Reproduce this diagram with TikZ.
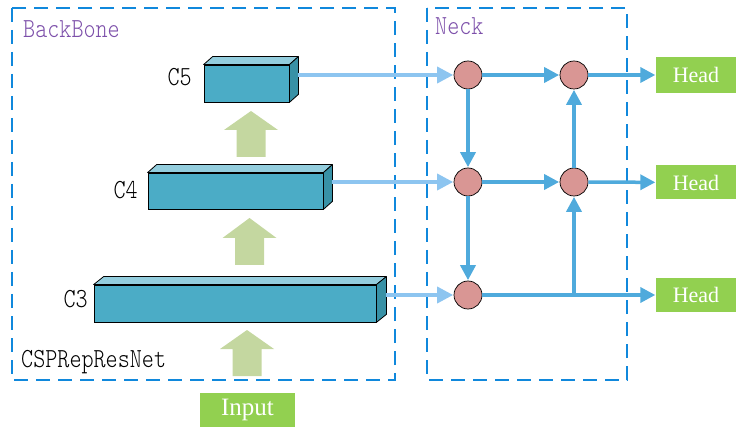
\documentclass[tikz,border=0pt]{standalone}
\usepackage{fontspec}
\setmainfont{Liberation Serif}
\newfontfamily\thinmono{lmmonolt10-regular.otf}
\usetikzlibrary{arrows.meta,calc}

\definecolor{frame}{RGB}{16,136,220}
\definecolor{title}{RGB}{125,80,170}
\definecolor{cubefront}{RGB}{75,172,198}
\definecolor{cubetop}{RGB}{147,205,221}
\definecolor{cubeside}{RGB}{56,145,166}
\definecolor{upgreen}{RGB}{196,215,160}
\definecolor{tagreen}{RGB}{146,208,80}
\definecolor{nodered}{RGB}{217,150,148}
\definecolor{litelink}{RGB}{141,197,240}
\definecolor{darklink}{RGB}{79,170,220}

\tikzset{
  region/.style={draw=frame, line width=2pt, dash pattern=on 14pt off 8pt},
  monolabel/.style={inner sep=0pt, font=\thinmono\fontsize{23}{23}\selectfont},
  front/.style={draw=black, line width=0.8pt, fill=cubefront, inner sep=0pt},
  fuse/.style={circle, draw=black, line width=0.7pt, fill=nodered, minimum size=28pt, inner sep=0pt},
  tag/.style={fill=tagreen, text=white, inner sep=0pt, font=\fontsize{22}{22}\selectfont},
  litearrow/.style={draw=litelink, line width=3.5pt, -{Triangle[length=16pt,width=16pt]}, shorten >=0.5pt},
  darkarrow/.style={draw=darklink, line width=3.5pt, -{Triangle[length=15pt,width=15pt]}, shorten >=0.5pt},
  darkline/.style={draw=darklink, line width=3.5pt},
}

% front face node plus top and side faces of a flat box
\newcommand\flatcube[2]{%
  \fill[cubetop, draw=black, line width=0.8pt, line join=round]
    (#1.north west) -- (#1.north east) -- ++(#2,-8) -- ($(#1.north west)+(#2,-8)$) -- cycle;
  \fill[cubeside, draw=black, line width=0.8pt, line join=round]
    (#1.north east) -- (#1.south east) -- ++(#2,-8) -- ($(#1.north east)+(#2,-8)$) -- cycle;
}

% wide upward block arrow: centre x, bottom y, head base y, tip y
\newcommand\blockup[4]{%
  \fill[upgreen] (#1-14.5,#2) -- (#1-14.5,#3) -- (#1-27,#3) -- (#1,#4)
    -- (#1+27,#3) -- (#1+14.5,#3) -- (#1+14.5,#2) -- cycle;
}

\begin{document}
\begin{tikzpicture}[x=1pt, y=-1pt]
\useasboundingbox (0,0) rectangle (736,430);

% dashed regions
\draw[region] (12,8) rectangle (395,380);
\draw[region] (427,8) rectangle (627,380);

\node[monolabel, text=title, anchor=west] (bbname) at (23,29) {\scalebox{1}[1.2]{BackBone}};
\node[monolabel, text=title, anchor=west] (neckname) at (435,26) {\scalebox{1}[1.2]{Neck}};
\node[monolabel, anchor=west] (netname) at (21,362) {\scalebox{1}[1.2]{CSPRepResNet}};

% backbone stages
\node[front, minimum width=85pt, minimum height=37pt] (c5) at (246.5,83.5) {};
\node[front, minimum width=175pt, minimum height=36pt] (c4) at (235.5,191) {};
\node[front, minimum width=282pt, minimum height=37pt] (c3) at (235,303.5) {};
\flatcube{c5}{9}
\flatcube{c4}{9}
\flatcube{c3}{10}

\node[monolabel, anchor=east] (c5name) at (192,77) {\scalebox{1}[1.2]{C5}};
\node[monolabel, anchor=east] (c4name) at (138,190) {\scalebox{1}[1.2]{C4}};
\node[monolabel, anchor=east] (c3name) at (88,299.5) {\scalebox{1}[1.2]{C3}};

% data flow through the backbone
\blockup{251}{157}{130}{111}
\blockup{249.5}{265}{238}{218}
\blockup{247}{376}{349}{330}

\node[tag, minimum width=95pt, minimum height=34pt, font=\fontsize{25}{25}\selectfont] (input) at (247.5,410) {Input};

% neck fusion points
\node[fuse] (n11) at (468,75) {};
\node[fuse] (n12) at (574,75) {};
\node[fuse] (n21) at (468,182) {};
\node[fuse] (n22) at (574,182) {};
\node[fuse] (n31) at (468,295) {};
\coordinate (j3) at (574,295);

% heads
\node[tag, minimum width=80pt, minimum height=36pt] (h1) at (696,75) {Head};
\node[tag, minimum width=80pt, minimum height=34pt] (h2) at (696,182.5) {Head};
\node[tag, minimum width=80pt, minimum height=34pt] (h3) at (696,295) {Head};

% stage outputs into the neck
\coordinate (c5out) at (298,75);
\coordinate (c4out) at (332,182);
\coordinate (c3out) at (386,295);
\draw[litearrow] (c5out) -- (n11);
\draw[litearrow] (c4out) -- (n21);
\draw[litearrow] (c3out) -- (n31);

% top-down path
\draw[darkarrow] (n11) -- (n21);
\draw[darkarrow] (n21) -- (n31);
% bottom-up path
\draw[darkline] (n31) -- (j3);
\draw[darkarrow] (j3) -- (n22);
\draw[darkarrow] (n22) -- (n12);
% lateral links
\draw[darkarrow] (n11) -- (n12);
\draw[darkarrow] (n21) -- (n22);
% outputs to heads
\draw[darkarrow] (n12) -- (h1);
\draw[darkarrow] (n22) -- (h2);
\draw[darkarrow] (j3) -- (h3);
\end{tikzpicture}
\end{document}
